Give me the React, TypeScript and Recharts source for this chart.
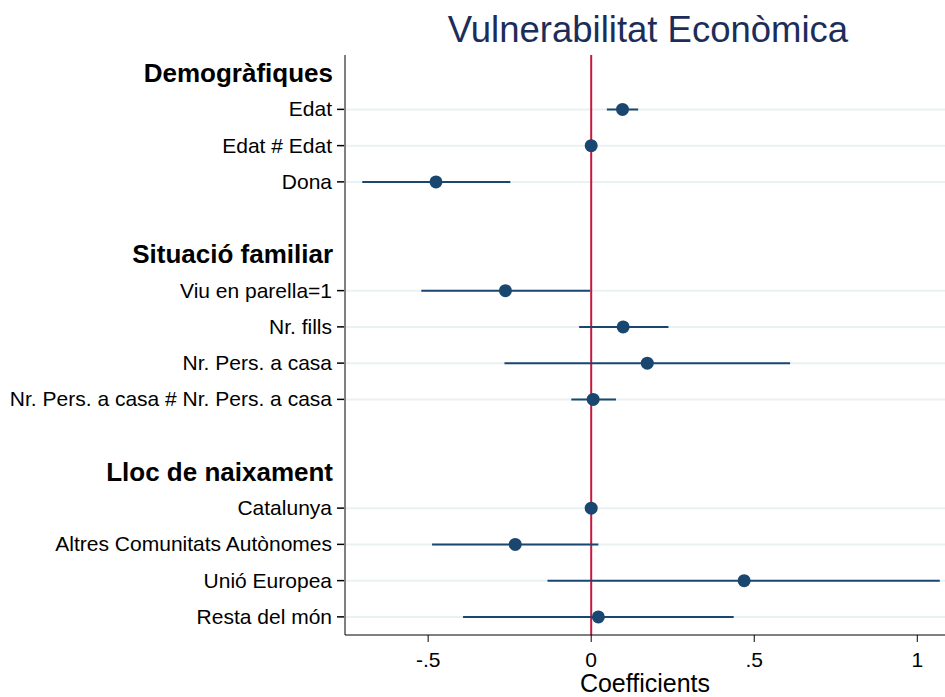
import {
  ErrorBar,
  ReferenceLine,
  Scatter,
  ScatterChart,
  XAxis,
  YAxis,
} from "recharts";

const rowLabels = [
  "Demogràfiques",
  "Edat",
  "Edat # Edat",
  "Dona",
  "",
  "Situació familiar",
  "Viu en parella=1",
  "Nr. fills",
  "Nr. Pers. a casa",
  "Nr. Pers. a casa # Nr. Pers. a casa",
  "",
  "Lloc de naixament",
  "Catalunya",
  "Altres Comunitats Autònomes",
  "Unió Europea",
  "Resta del món",
];
const headerRows = [0, 5, 11];
const variableRows = [1, 2, 3, 6, 7, 8, 9, 12, 13, 14, 15];
const coef = [0.096, 0, -0.476, -0.263, 0.098, 0.172, 0.006, 0, -0.233, 0.469, 0.022];
const lower = [0.048, -0.002, -0.702, -0.521, -0.037, -0.266, -0.061, 0, -0.488, -0.134, -0.393];
const upper = [0.144, 0.002, -0.248, -0.003, 0.237, 0.61, 0.076, 0, 0.022, 1.069, 0.437];
const xTicks = [-0.5, 0, 0.5, 1];
const xTickLabels = ["-.5", "0", ".5", "1"];

const data = variableRows.map((row, i) => ({
  x: coef[i],
  y: row,
  err: [coef[i] - lower[i], upper[i] - coef[i]],
}));

const FONT = "'Liberation Sans', Arial, Helvetica, sans-serif";
const NAVY = "#1a476f";

function RowTick(props: any) {
  const { x, y, payload } = props;
  const row = payload.value;
  const label = rowLabels[row];
  if (!label) return null;
  if (headerRows.includes(row)) {
    return (
      <text x={x + 1} y={y} dy={9} textAnchor="end" fontSize={26} fontWeight="bold" fill="#000" fontFamily={FONT}>
        {label}
      </text>
    );
  }
  return (
    <g>
      <line x1={x + 5} x2={x + 12} y1={y} y2={y} stroke="#000" strokeWidth={1.5} />
      <text x={x} y={y} dy={7} textAnchor="end" fontSize={21} fill="#000" fontFamily={FONT}>
        {label}
      </text>
    </g>
  );
}

export default function App() {
  return (
    <div style={{ position: "relative", width: 945, height: 697, fontFamily: FONT }}>
      <style>{"body{margin:0}"}</style>
      <div
        style={{
          position: "absolute",
          left: 348,
          width: 600,
          top: 9,
          textAlign: "center",
          fontSize: 36.5,
          color: "#1c2d5a",
          fontFamily: FONT,
        }}
      >
        Vulnerabilitat Econòmica
      </div>
      <div
        style={{
          position: "absolute",
          left: 345,
          width: 600,
          top: 671,
          lineHeight: 1,
          textAlign: "center",
          fontSize: 25,
          color: "#000",
          fontFamily: FONT,
        }}
      >
        Coefficients
      </div>
      <ScatterChart width={945} height={697} margin={{ top: 55, right: 0, bottom: 0, left: 0 }}>
        {variableRows.map((row) => (
          <ReferenceLine key={row} y={row} stroke="#eaf1f3" strokeWidth={2} />
        ))}
        <XAxis
          type="number"
          dataKey="x"
          domain={[-0.755, 1.085]}
          allowDataOverflow
          ticks={xTicks}
          tickFormatter={(v: number) => xTickLabels[xTicks.indexOf(v)]}
          height={62}
          tickSize={7}
          tickMargin={10}
          stroke="#000"
          tick={{ fontSize: 21, fill: "#000", fontFamily: FONT }}
        />
        <YAxis
          type="number"
          dataKey="y"
          domain={[-0.5, 15.5]}
          reversed
          ticks={rowLabels.map((_, i) => i)}
          interval={0}
          width={345}
          tickLine={false}
          tickSize={7}
          tickMargin={6}
          stroke="#000"
          tick={<RowTick />}
        />
        <ReferenceLine x={0} stroke="#c8183f" strokeWidth={2} />
        <Scatter data={data} fill={NAVY} isAnimationActive={false} shape={(p: any) => <circle cx={p.cx} cy={p.cy} r={6.5} fill={NAVY} />}>
          <ErrorBar dataKey="err" direction="x" width={0} stroke={NAVY} strokeWidth={2} />
        </Scatter>
      </ScatterChart>
    </div>
  );
}
